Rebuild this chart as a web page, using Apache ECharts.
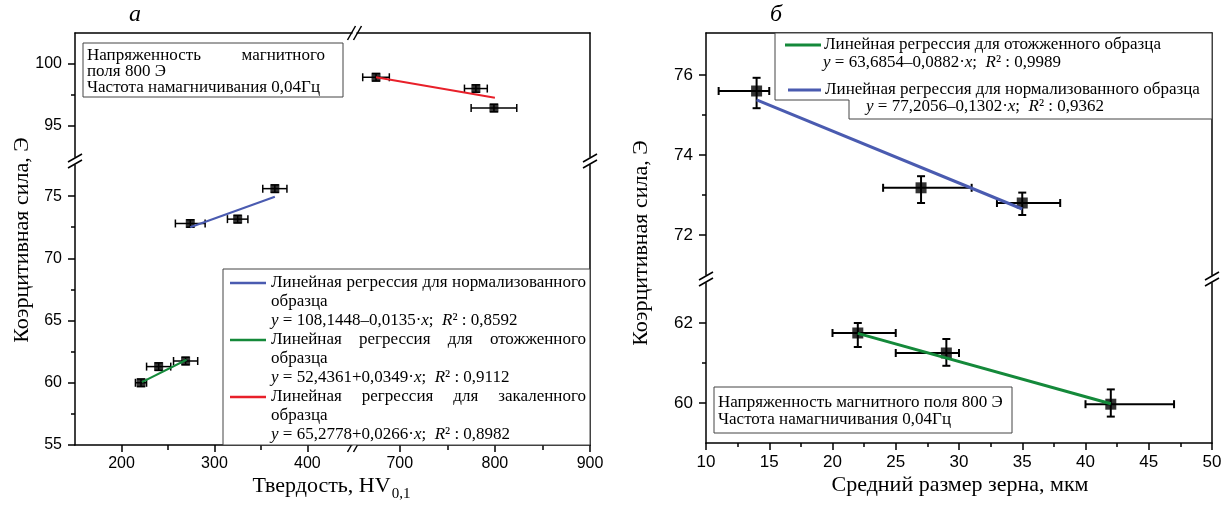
<!DOCTYPE html>
<html>
<head>
<meta charset="utf-8">
<script src="https://cdn.jsdelivr.net/npm/echarts@6/dist/echarts.min.js"></script>
<style>
  html, body { margin: 0; padding: 0; background: #fff; }
  #chart { width: 1227px; height: 505px; }
</style>
</head>
<body>
<div id="chart"></div>
<script>
// ---- панель а: коэрцитивная сила от твердости ----
const hvNorm = [274, 325, 365];
const hcNorm = [72.8, 73.15, 75.6];
const hvNormErr = [16, 11, 13];
const hvAnn = [221, 240, 269];
const hcAnn = [60.0, 61.3, 61.75];
const hvAnnErr = [6, 13, 13];
const hvQuen = [675, 780, 799];
const hcQuen = [98.93, 98.02, 96.45];
const hvQuenErr = [14, 12, 24];
const hcErrA = [0.3, 0.3, 0.3];

const fitNormA = [[274, 72.5], [365, 74.95]];
const fitAnnA = [[222, 60.05], [270, 61.85]];
const fitQuenA = [[675, 98.93], [800, 97.28]];

const ticksXLow = [200, 300, 400];
const minorXLow = [250, 350];
const ticksXHigh = [700, 800, 900];
const minorXHigh = [750, 850];
const ticksYLow = [55, 60, 65, 70, 75];
const minorYLow = [57.5, 62.5, 67.5, 72.5];
const ticksYHigh = [95, 100];
const minorYHigh = [97.5];

// ---- панель б: коэрцитивная сила от размера зерна ----
const grainNorm = [14, 27, 35];
const hcGNorm = [75.6, 73.18, 72.8];
const grainNormLo = [11, 24, 33];
const grainNormHi = [15, 31, 38];
const hcGNormLo = [75.17, 72.8, 72.5];
const hcGNormHi = [75.93, 73.47, 73.06];

const grainAnn = [22, 29, 42];
const hcGAnn = [61.75, 61.25, 59.97];
const grainAnnLo = [20, 25, 40];
const grainAnnHi = [25, 30, 47];
const hcGAnnLo = [61.4, 60.93, 59.66];
const hcGAnnHi = [62.0, 61.6, 60.34];

const fitNormB = [[14, 75.38], [35, 72.65]];
const fitAnnB = [[22, 61.74], [42, 59.98]];

const ticksXB = [10, 15, 20, 25, 30, 35, 40, 45, 50];
const minorXB = [12.5, 17.5, 22.5, 27.5, 32.5, 37.5, 42.5, 47.5];
const ticksYBHigh = [72, 74, 76];
const minorYBHigh = [73, 75];
const ticksYBLow = [60, 62];
const minorYBLow = [61];

const BLUE = '#4a5bb0', GREEN = '#14893a', RED = '#e8202a';
const SERIF = 'Liberation Serif';
const SANS = 'Liberation Sans';
const LEG = 17;

const chart = echarts.init(document.getElementById('chart'));

// оси
function axis(grid, min, max, position, p) {
    return {
        type: 'value', gridIndex: grid, min: min, max: max, position: position,
        splitLine: {show: false},
        axisLine: {show: !!p.line, onZero: false, lineStyle: {color: '#000', width: 1.5}},
        axisTick: {show: !!p.ticks, inside: false, length: p.len || 7, customValues: p.ticks,
            lineStyle: {color: '#000', width: 1.5}},
        axisLabel: {show: !!p.labels, customValues: p.labels, margin: p.margin || 11,
            fontFamily: SANS, fontSize: p.size || 16, color: '#000'}
    };
}

const grids = [
    {left: 75, top: 165, width: 277, height: 280},   // 0 а: низ-лево
    {left: 75, top: 33, width: 277, height: 124},    // 1 а: верх-лево
    {left: 357, top: 165, width: 233, height: 280},  // 2 а: низ-право
    {left: 357, top: 33, width: 233, height: 124},   // 3 а: верх-право
    {left: 706, top: 33, width: 506, height: 242},   // 4 б: верх
    {left: 706, top: 283, width: 506, height: 160}   // 5 б: низ
];

const xAxes = [
    axis(0, 150, 448, 'bottom', {line: true, ticks: ticksXLow, labels: ticksXLow}),   // 0
    axis(0, 150, 448, 'bottom', {ticks: minorXLow, len: 5}),                          // 1
    axis(1, 150, 448, 'top', {line: true}),                                            // 2
    axis(2, 655, 900, 'bottom', {line: true, ticks: ticksXHigh, labels: ticksXHigh}), // 3
    axis(2, 655, 900, 'bottom', {ticks: minorXHigh, len: 5}),                         // 4
    axis(3, 655, 900, 'top', {line: true}),                                            // 5
    axis(4, 10, 50, 'top', {line: true}),                                              // 6
    axis(5, 10, 50, 'bottom', {line: true, ticks: ticksXB, labels: ticksXB, size: 17}),// 7
    axis(5, 10, 50, 'bottom', {ticks: minorXB, len: 4})                                // 8
];
const yAxes = [
    axis(0, 55, 77.5, 'left', {line: true, ticks: ticksYLow, labels: ticksYLow, margin: 13}), // 0
    axis(0, 55, 77.5, 'left', {ticks: minorYLow, len: 4}),                                    // 1
    axis(1, 92.5, 102.5, 'left', {line: true, ticks: ticksYHigh, labels: ticksYHigh, margin: 13}), // 2
    axis(1, 92.5, 102.5, 'left', {ticks: minorYHigh, len: 4}),                                // 3
    axis(2, 55, 77.5, 'right', {line: true}),                                                 // 4
    axis(3, 92.5, 102.5, 'right', {line: true}),                                              // 5
    axis(4, 71, 77.05, 'left', {line: true, ticks: ticksYBHigh, labels: ticksYBHigh, size: 17, margin: 13}), // 6
    axis(4, 71, 77.05, 'left', {ticks: minorYBHigh, len: 4}),                                 // 7
    axis(4, 71, 77.05, 'right', {line: true}),                                                // 8
    axis(5, 59, 63, 'left', {line: true, ticks: ticksYBLow, labels: ticksYBLow, size: 17, margin: 13}), // 9
    axis(5, 59, 63, 'left', {ticks: minorYBLow, len: 4}),                                     // 10
    axis(5, 59, 63, 'right', {line: true})                                                    // 11
];

// планки погрешностей
function errBars(xi, yi, rows, cap, lw) {
    return {
        type: 'custom', xAxisIndex: xi, yAxisIndex: yi, z: 3,
        encode: {x: [0, 2, 3], y: [1, 4, 5]},
        data: rows,
        renderItem: function (params, api) {
            const x = api.value(0), y = api.value(1);
            const l = api.coord([api.value(2), y]), r = api.coord([api.value(3), y]);
            const b = api.coord([x, api.value(4)]), t = api.coord([x, api.value(5)]);
            const st = {stroke: '#000', lineWidth: lw};
            const seg = (x1, y1, x2, y2) => ({type: 'line', shape: {x1, y1, x2, y2}, style: st});
            return {type: 'group', children: [
                seg(l[0], l[1], r[0], r[1]),
                seg(l[0], l[1] - cap, l[0], l[1] + cap),
                seg(r[0], r[1] - cap, r[0], r[1] + cap),
                seg(b[0], b[1], t[0], t[1]),
                seg(b[0] - cap, b[1], b[0] + cap, b[1]),
                seg(t[0] - cap, t[1], t[0] + cap, t[1])
            ]};
        }
    };
}
function symRows(xs, ys, xe, ye) {
    return xs.map((x, i) => [x, ys[i], x - xe[i], x + xe[i], ys[i] - ye[i], ys[i] + ye[i]]);
}
function asymRows(xs, ys, xlo, xhi, ylo, yhi) {
    return xs.map((x, i) => [x, ys[i], xlo[i], xhi[i], ylo[i], yhi[i]]);
}
function points(xi, yi, xs, ys, size) {
    return {type: 'scatter', xAxisIndex: xi, yAxisIndex: yi, z: 4, symbol: 'rect', symbolSize: size,
        itemStyle: {color: '#000'}, data: xs.map((x, i) => [x, ys[i]])};
}
function fit(xi, yi, pts, color, w) {
    return {type: 'line', xAxisIndex: xi, yAxisIndex: yi, z: 5, symbol: 'none',
        lineStyle: {color: color, width: w}, data: pts};
}

const series = [
    errBars(0, 0, symRows(hvNorm, hcNorm, hvNormErr, hcErrA), 4, 1.5),
    errBars(0, 0, symRows(hvAnn, hcAnn, hvAnnErr, hcErrA), 4, 1.5),
    errBars(5, 5, symRows(hvQuen, hcQuen, hvQuenErr, hcErrA), 4, 1.5),
    points(0, 0, hvNorm, hcNorm, 9),
    points(0, 0, hvAnn, hcAnn, 9),
    points(5, 5, hvQuen, hcQuen, 9),
    fit(0, 0, fitNormA, BLUE, 2),
    fit(0, 0, fitAnnA, GREEN, 2),
    fit(5, 5, fitQuenA, RED, 2),

    errBars(6, 6, asymRows(grainNorm, hcGNorm, grainNormLo, grainNormHi, hcGNormLo, hcGNormHi), 4, 2),
    errBars(7, 9, asymRows(grainAnn, hcGAnn, grainAnnLo, grainAnnHi, hcGAnnLo, hcGAnnHi), 4, 2),
    points(6, 6, grainNorm, hcGNorm, 11),
    points(7, 9, grainAnn, hcGAnn, 11),
    fit(6, 6, fitNormB, BLUE, 3),
    fit(7, 9, fitAnnB, GREEN, 3)
];

// тексты и рамки
const mctx = document.createElement('canvas').getContext('2d');
function tw(s, size, style) {
    mctx.font = (style || '') + ' ' + size + 'px "' + SERIF + '"';
    return mctx.measureText(s).width;
}
function txt(s, x, y, o) {
    o = o || {};
    return {type: 'text', x: x, y: y, z: 20, rotation: o.rot || 0,
        style: {text: s, fill: '#000', fontFamily: o.family || SERIF, fontSize: o.size || LEG,
            fontStyle: o.style || 'normal', align: o.align || 'left', verticalAlign: 'middle',
            textAlign: o.align || 'left', textVerticalAlign: 'middle', rich: o.rich}};
}
function justify(s, x0, x1, y) {
    const words = s.split(' ');
    const ws = words.map(w => tw(w, LEG));
    const gap = (x1 - x0 - ws.reduce((a, b) => a + b, 0)) / (words.length - 1);
    let x = x0;
    return words.map((w, i) => { const e = txt(w, x, y); x += ws[i] + gap; return e; });
}
const richF = {
    i: {fontFamily: SERIF, fontSize: LEG, fontStyle: 'italic'},
    n: {fontFamily: SERIF, fontSize: LEG}
};
function formula(s, x, y) {
    return txt(s, x, y, {rich: richF});
}
function hline(x1, x2, y, color, w) {
    return {type: 'line', z: 20, shape: {x1: x1, y1: y, x2: x2, y2: y}, style: {stroke: color, lineWidth: w}};
}
function rect(x, y, w, h) {
    return {type: 'rect', z: 15, shape: {x: x, y: y, width: w, height: h},
        style: {fill: '#fff', stroke: '#444', lineWidth: 1}};
}
// знак разрыва оси
function brk(cx, cy, vertical) {
    const ch = [];
    if (vertical) {
        ch.push({type: 'polygon', shape: {points: [[cx - 7, cy + 7], [cx + 7, cy - 1], [cx + 7, cy - 7], [cx - 7, cy + 1]]},
            style: {fill: '#fff'}});
        [-3, 3].forEach(d => ch.push({type: 'line', shape: {x1: cx - 7, y1: cy + d + 4, x2: cx + 7, y2: cy + d - 4},
            style: {stroke: '#000', lineWidth: 1.5}}));
    } else {
        ch.push({type: 'polygon', shape: {points: [[cx - 7, cy + 7], [cx + 1, cy + 7], [cx + 7, cy - 7], [cx - 1, cy - 7]]},
            style: {fill: '#fff'}});
        [-3, 3].forEach(d => ch.push({type: 'line', shape: {x1: cx + d - 4, y1: cy + 7, x2: cx + d + 4, y2: cy - 7},
            style: {stroke: '#000', lineWidth: 1.5}}));
    }
    return {type: 'group', z: 30, children: ch};
}

const fA1 = '{i|y} = 108,1448–0,0135·{i|x};  {i|R}² : 0,8592';
const fA2 = '{i|y} = 52,4361+0,0349·{i|x};  {i|R}² : 0,9112';
const fA3 = '{i|y} = 65,2778+0,0266·{i|x};  {i|R}² : 0,8982';
const fB1 = '{i|y} = 63,6854–0,0882·{i|x};  {i|R}² : 0,9989';
const fB2 = '{i|y} = 77,2056–0,1302·{i|x};  {i|R}² : 0,9362';

const xTitleA = 'Твердость, HV';
const xTitleAw = tw(xTitleA, 22) + tw('0,1', 15);
const xTitleAx = 331 - xTitleAw / 2;

const graphic = [
    // подписи панелей
    txt('а', 135, 15, {size: 24, style: 'italic', align: 'center'}),
    txt('б', 776, 15, {size: 24, style: 'italic', align: 'center'}),
    // заголовки осей
    txt('Коэрцитивная сила, Э', 22, 240, {size: 22, align: 'center', rot: Math.PI / 2}),
    txt('Коэрцитивная сила, Э', 641, 243, {size: 22, align: 'center', rot: Math.PI / 2}),
    txt(xTitleA, xTitleAx, 486, {size: 22}),
    txt('0,1', xTitleAx + tw(xTitleA, 22) + 1, 494, {size: 15}),
    txt('Средний размер зерна, мкм', 960, 485, {size: 22, align: 'center'}),

    // информационная рамка а
    rect(83, 43, 260, 54),
    ...justify('Напряженность магнитного', 87, 325, 56),
    txt('поля 800 Э', 87, 72),
    txt('Частота намагничивания 0,04Гц', 87, 88),

    // легенда а
    rect(223, 269, 367, 176),
    hline(230, 266, 283, BLUE, 2.5),
    ...justify('Линейная регрессия для нормализованного', 271, 586, 283),
    txt('образца', 271, 302),
    formula(fA1, 271, 321),
    hline(230, 266, 340, GREEN, 2.5),
    ...justify('Линейная регрессия для отожженного', 271, 586, 340),
    txt('образца', 271, 359),
    formula(fA2, 271, 378),
    hline(230, 266, 397, RED, 2.5),
    ...justify('Линейная регрессия для закаленного', 271, 586, 397),
    txt('образца', 271, 416),
    formula(fA3, 271, 435),

    // легенда б
    {type: 'polygon', z: 15, shape: {points: [[775, 33], [775, 100], [849, 100], [849, 119], [1212, 119], [1212, 33]]},
        style: {fill: '#fff', stroke: '#444', lineWidth: 1}},
    hline(785, 821, 45, GREEN, 3),
    txt('Линейная регрессия для отожженного образца', 824, 45),
    formula(fB1, 823, 63),
    hline(788, 821, 90, BLUE, 3),
    txt('Линейная регрессия для нормализованного образца', 825, 90),
    formula(fB2, 866, 107),

    // информационная рамка б
    rect(714, 387, 298, 46),
    txt('Напряженность магнитного поля 800 Э', 718, 403),
    txt('Частота намагничивания 0,04Гц', 718, 420),

    // разрывы осей
    brk(75, 161, true),
    brk(590, 161, true),
    brk(354.5, 33, false),
    brk(354.5, 445, false),
    brk(706, 279, true),
    brk(1212, 279, true)
];

chart.setOption({
    animation: false,
    backgroundColor: '#fff',
    grid: grids,
    xAxis: xAxes,
    yAxis: yAxes,
    series: series,
    graphic: graphic
});
</script>
</body>
</html>
